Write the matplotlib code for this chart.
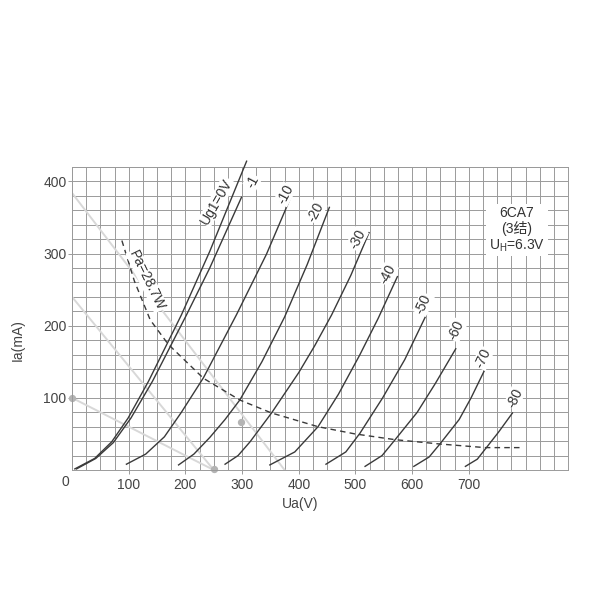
import matplotlib.pyplot as plt

# axis ticks
ua_ticks = [100, 200, 300, 400, 500, 600, 700]
ia_ticks = [100, 200, 300, 400]

# anode curves: Ua (V), Ia (mA)
ug_0_ua = [5, 40, 70, 99, 135, 164, 193, 243, 308]
ug_0_ia = [1.5, 16, 39, 72, 123, 169, 215, 303, 428]
ug_1_ua = [8, 42, 73, 104, 142, 172, 202, 243, 299]
ug_1_ia = [1.5, 16, 38, 72, 123, 169, 215, 280, 378]
ug_10_ua = [96, 130, 163, 193, 232, 260, 290, 343, 387]
ug_10_ia = [8, 22, 46, 80, 128, 170, 215, 299, 380]
ug_20_ua = [188, 215, 243, 270, 296, 335, 375, 415, 454]
ug_20_ia = [7, 22, 45, 70, 97, 150, 212, 285, 364]
ug_30_ua = [270, 293, 314, 352, 400, 428, 458, 492, 524]
ug_30_ia = [8, 20, 39, 79, 135, 172, 215, 270, 329]
ug_40_ua = [349, 393, 434, 470, 508, 540, 574]
ug_40_ia = [7, 25, 60, 105, 160, 210, 268]
ug_50_ua = [448, 483, 508, 548, 587, 625]
ug_50_ia = [8, 25, 51, 100, 153, 215]
ug_60_ua = [517, 547, 570, 609, 641, 677]
ug_60_ia = [5, 20, 42, 80, 120, 168]
ug_70_ua = [603, 630, 649, 683, 704, 727]
ug_70_ia = [5, 18, 36, 70, 100, 137]
ug_80_ua = [694, 715, 730, 752, 777]
ug_80_ia = [5, 15, 30, 52, 79]
curve_labels = ['Ug1=0V', '-1', '-10', '-20', '-30', '-40', '-50', '-60', '-70', '-80']

# max dissipation Pa = 28.7 W
pa_ua = [88, 110, 138, 170, 232, 296, 352, 434, 499, 570, 649, 729, 793]
pa_ia = [318, 262, 208, 174, 127, 97, 79, 60, 50, 42, 36, 31, 31]

# faint load lines
load_a_ua = [0, 375]
load_a_ia = [384, 0]
load_b_ua = [0, 250]
load_b_ia = [240, 0]
load_c_ua = [0, 250]
load_c_ia = [100, 0]
dot_ua = [298, 250, 0]
dot_ia = [67, 2, 100]

plt.rcParams['font.family'] = ['Liberation Sans', 'Noto Sans CJK SC', 'DejaVu Sans']

fig = plt.figure(figsize=(6, 6), dpi=100)
ax = fig.add_axes([0.12, 0.2167, 0.8267, 0.505])

gray = '#9a9a9a'
ink = '#3a3a3a'
txt = '#444444'

for x in range(0, 876, 25):
    ax.axvline(x, color=gray, lw=0.7, zorder=1)
for y in range(0, 421, 20):
    ax.axhline(y, color=gray, lw=0.7, zorder=1)

for xs, ys in [(load_a_ua, load_a_ia), (load_b_ua, load_b_ia), (load_c_ua, load_c_ia)]:
    ax.plot(xs, ys, color='#d8d8d8', lw=1.4, zorder=2)
ax.scatter(dot_ua, dot_ia, s=18, color='#b4b4b4', zorder=2, clip_on=False)

curves = [(ug_0_ua, ug_0_ia), (ug_1_ua, ug_1_ia), (ug_10_ua, ug_10_ia),
          (ug_20_ua, ug_20_ia), (ug_30_ua, ug_30_ia), (ug_40_ua, ug_40_ia),
          (ug_50_ua, ug_50_ia), (ug_60_ua, ug_60_ia), (ug_70_ua, ug_70_ia),
          (ug_80_ua, ug_80_ia)]
for xs, ys in curves:
    ax.plot(xs, ys, color=ink, lw=1.0, zorder=3, clip_on=False,
            solid_joinstyle='round')

ax.plot(pa_ua, pa_ia, color=ink, lw=1.0, ls=(0, (4, 3)), zorder=3)

# curve labels, rotated along the curves
label_pos = [(255, 372, 60), (318, 400, 62), (376, 382, 62), (430, 358, 62),
             (503, 320, 62), (556, 272, 62), (620, 230, 65), (678, 194, 65),
             (725, 155, 65), (781, 100, 65)]
for text, (x, y, rot) in zip(curve_labels, label_pos):
    ax.text(x, y, text, rotation=rot, ha='center', va='center', fontsize=10,
            color='#333333', zorder=5,
            bbox=dict(facecolor='white', edgecolor='none', pad=0.5))

ax.text(132, 263, 'Pa=28.7W', rotation=-64, ha='center', va='center',
        fontsize=10, color='#333333', zorder=5,
        bbox=dict(facecolor='white', edgecolor='none', pad=0.5))

ax.text(785, 333, '6CA7\n(3结)\nU$_\\mathregular{H}$=6.3V', ha='center', va='center',
        fontsize=10, color='#333333', linespacing=1.1, zorder=5,
        bbox=dict(facecolor='white', edgecolor='none', pad=2))

ax.set_xlim(0, 875)
ax.set_ylim(0, 420)
ax.set_xticks(ua_ticks)
ax.set_yticks(ia_ticks)
ax.tick_params(length=3, width=0.7, color=gray, labelcolor=txt, labelsize=10)
ax.tick_params(axis='x', pad=2.5)
ax.tick_params(axis='y', pad=1)
for s in ax.spines.values():
    s.set_color(gray)
    s.set_linewidth(0.7)

ax.text(-12, -17, '0', ha='center', va='center', fontsize=10, color=txt,
        clip_on=False)
ax.set_xlabel('Ua(V)', fontsize=10, color=txt)
ax.set_ylabel('Ia(mA)', fontsize=10, color=txt)
ax.xaxis.set_label_coords(0.46, -0.09)
ax.yaxis.set_label_coords(-0.095, 0.43)

fig.savefig('out.png', dpi=100, facecolor='white')
